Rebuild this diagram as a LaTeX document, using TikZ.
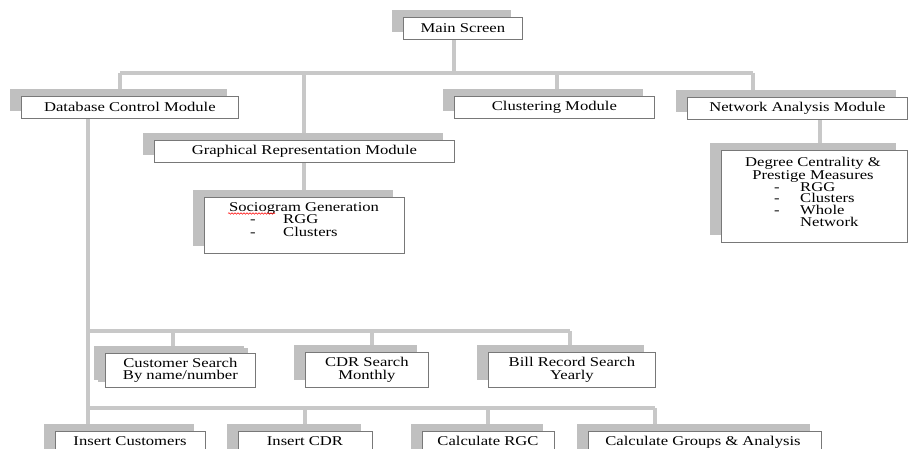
\documentclass[tikz,border=0pt]{standalone}
\usepackage{fontspec}
\setmainfont{Liberation Serif}[FakeStretch=1.24]
\usetikzlibrary{shadows,backgrounds,decorations.pathmorphing}

\definecolor{linkgray}{RGB}{200,200,200}
\definecolor{shadegray}{RGB}{192,192,192}
\definecolor{edgegray}{RGB}{120,120,120}

\tikzset{
  modbox/.style={draw=edgegray, line width=0.8pt, fill=white, anchor=north west,
    inner sep=0pt, align=center, font=\fontsize{13.4}{12.4}\selectfont,
    general shadow={fill=shadegray, shadow xshift=-11pt, shadow yshift=7pt}},
  smallshade/.style={general shadow={fill=shadegray, shadow xshift=-7pt, shadow yshift=5pt}},
  link/.style={draw=linkgray, line width=4.5pt},
  txt/.style={font=\fontsize{13.4}{12.4}\selectfont, inner sep=0pt, anchor=base,
    text height=8.5pt, text depth=2pt},
  txtl/.style={txt, anchor=base west},
}

\newcommand{\modbox}[6]{% name, x1, y1, x2, y2, text
  \node[modbox, minimum width={#4-#2}, minimum height={#5-#3}] (#1) at (#2,#3) {#6};}

\begin{document}
\begin{tikzpicture}[x=1pt, y=-1pt]
\useasboundingbox (0,0) rectangle (909,449);
\clip (0,0) rectangle (909,449);

% module boxes
\modbox{main}{403}{17}{522}{39}{Main Screen}
\modbox{db}{21}{96}{238}{118}{Database Control Module}
\modbox{graph}{154}{140}{454}{162}{Graphical Representation Module}
\modbox{clust}{454}{96}{654}{118}{Clustering Module}
\modbox{net}{687}{97}{907}{119}{Network Analysis Module}
\modbox{socio}{204}{197}{404}{253}{}
\modbox{degree}{721}{150}{907}{242}{}

% search boxes
\node[modbox, smallshade, minimum width=150, minimum height=34] (cust) at (105,353)
  {Customer Search\\By name/number};
\modbox{cdr}{305}{352}{428}{387}{CDR Search\\Monthly}
\modbox{bill}{488}{352}{655}{387}{Bill Record Search\\Yearly}

% bottom row
\modbox{inscust}{55}{431}{205}{461}{}
\modbox{inscdr}{238}{431}{372}{461}{}
\modbox{calcrgc}{422}{431}{554}{461}{}
\modbox{calcgrp}{588}{431}{821}{461}{}
\node[txt] (tinscust) at (130,445) {Insert Customers};
\node[txt] (tinscdr) at (305,445) {Insert CDR};
\node[txt] (tcalcrgc) at (488,445) {Calculate RGC};
\node[txt] (tcalcgrp) at (703,445) {Calculate Groups \& Analysis};

% sociogram contents
\node[txt] (stitle) at (304,211) {Sociogram Generation};
\node[txt] (sd1) at (253,223) {-};
\node[txtl] (s1) at (283,223) {RGG};
\node[txt] (sd2) at (253,236) {-};
\node[txtl] (s2) at (283,236) {Clusters};
\draw[red, line width=0.5pt, decorate,
  decoration={snake, amplitude=0.8pt, segment length=3pt}]
  (228,213.5) -- (275,213.5);

% degree centrality contents
\node[txt] (dt1) at (813,167) {Degree Centrality \&};
\node[txt] (dt2) at (813,179) {Prestige Measures};
\node[txt] (dd1) at (777,191) {-};
\node[txtl] (di1) at (800,191) {RGG};
\node[txt] (dd2) at (777,202.5) {-};
\node[txtl] (di2) at (800,202.5) {Clusters};
\node[txt] (dd3) at (777,214) {-};
\node[txtl] (di3) at (800,214) {Whole};
\node[txtl] (di4) at (800,226) {Network};

% connectors
\begin{scope}[on background layer]
  \coordinate (busA) at (120,73);
  \coordinate (busB) at (753,73);
  \coordinate (jmain) at (454,73);
  \coordinate (jgraph) at (304,73);
  \coordinate (jclust) at (557,73);
  \draw[link] (busA) -- (busB);
  \draw[link] (jmain) -- (jmain |- main.south);
  \draw[link] (busA) -- (busA |- db.center);
  \draw[link] (jgraph) -- (jgraph |- graph.center);
  \draw[link] (jclust) -- (jclust |- clust.center);
  \draw[link] (busB) -- (busB |- net.center);

  \coordinate (jsocio) at (304,162);
  \draw[link] (jsocio) -- (jsocio |- socio.center);
  \coordinate (jdeg) at (820,119);
  \draw[link] (jdeg) -- (jdeg |- degree.center);

  \coordinate (dbdrop) at (88,118);
  \draw[link] (dbdrop) -- (dbdrop |- inscust.center);

  \coordinate (midL) at (88,331);
  \coordinate (midR) at (570,331);
  \coordinate (jcust) at (173,331);
  \coordinate (jcdr) at (372,331);
  \draw[link] (midL) -- (midR);
  \draw[link] (jcust) -- (jcust |- cust.center);
  \draw[link] (jcdr) -- (jcdr |- cdr.center);
  \draw[link] (midR) -- (midR |- bill.center);

  \coordinate (lowL) at (88,408);
  \coordinate (lowR) at (655,408);
  \coordinate (jinscdr) at (305,408);
  \coordinate (jrgc) at (488,408);
  \draw[link] (lowL) -- (lowR);
  \draw[link] (jinscdr) -- (jinscdr |- inscdr.center);
  \draw[link] (jrgc) -- (jrgc |- calcrgc.center);
  \draw[link] (lowR) -- (lowR |- calcgrp.center);
\end{scope}
\end{tikzpicture}
\end{document}
